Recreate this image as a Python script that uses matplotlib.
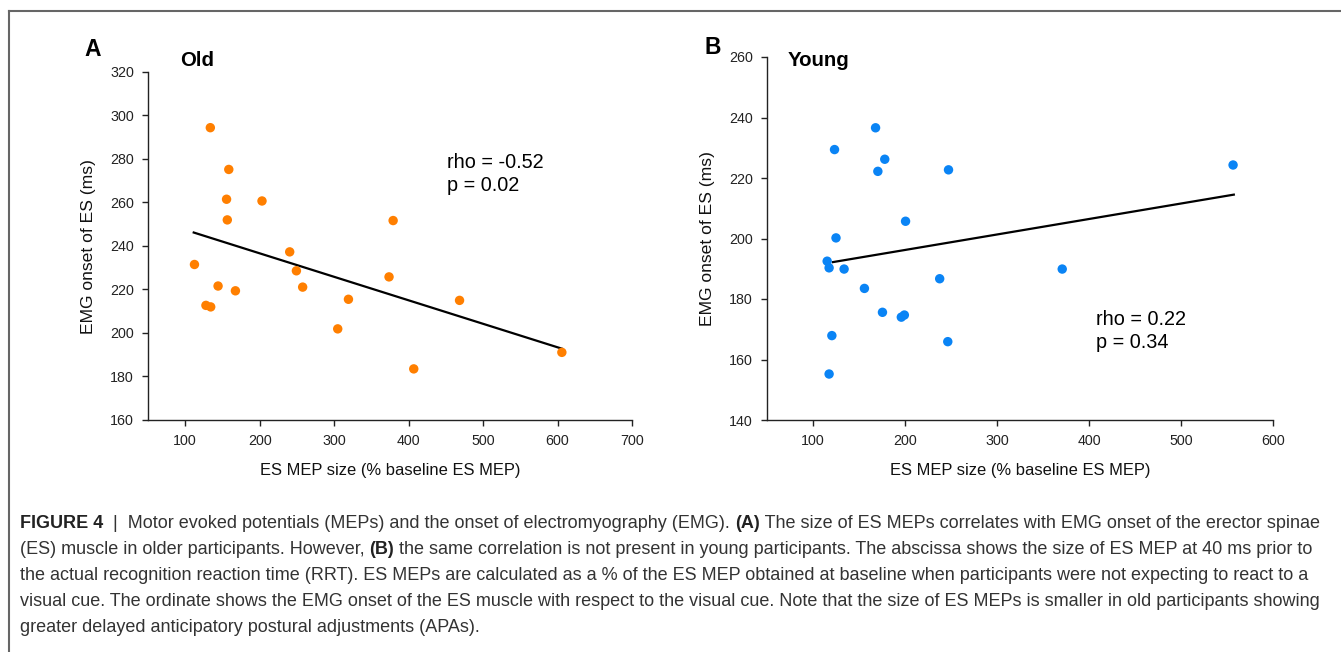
import numpy as np
import matplotlib
matplotlib.use('Agg')
import matplotlib.pyplot as plt
from matplotlib.lines import Line2D

plt.rcParams['font.family'] = ['Liberation Sans', 'DejaVu Sans']

# Painel A - idosos
old_mep = [133.7, 158.5, 155.5, 203.1, 156.5, 379.2, 240.3, 112.4, 249.3, 373.7,
           144.1, 257.7, 167.4, 319.2, 468.4, 127.8, 134.2, 304.8, 406.9, 605.8]
old_emg = [294.4, 275.2, 261.5, 260.7, 252.0, 251.7, 237.3, 231.5, 228.6, 225.8,
           221.6, 221.1, 219.4, 215.5, 215.0, 212.7, 212.0, 201.9, 183.5, 191.1]
old_fit_x = [111.4, 605.8]
old_fit_y = [246.2, 192.8]

# Painel B - jovens
young_mep = [168.0, 123.4, 178.0, 170.5, 247.3, 556.6, 200.6, 125.0, 115.4, 117.5,
             133.8, 370.9, 237.7, 155.9, 175.5, 196.0, 199.3, 120.5, 246.5, 117.5]
young_emg = [236.6, 229.4, 226.2, 222.2, 222.7, 224.3, 205.7, 200.2, 192.5, 190.3,
             189.9, 189.9, 186.7, 183.5, 175.6, 174.0, 174.7, 167.9, 165.9, 155.2]
young_fit_x = [121.7, 557.4]
young_fit_y = [192.2, 214.5]

old_xticks = [100, 200, 300, 400, 500, 600, 700]
old_yticks = [160, 180, 200, 220, 240, 260, 280, 300, 320]
young_xticks = [100, 200, 300, 400, 500, 600]
young_yticks = [140, 160, 180, 200, 220, 240, 260]

W, H = 1341, 652
fig = plt.figure(figsize=(W/100, H/100), dpi=100)

axA = fig.add_axes([148/W, 1-420/H, (632-148)/W, (420-72)/H])
axB = fig.add_axes([767/W, 1-420/H, (1273-767)/W, (420-57)/H])


def estilo(ax, xlim, ylim, xt, yt):
    ax.set_xlim(*xlim)
    ax.set_ylim(*ylim)
    ax.set_xticks(xt)
    ax.set_yticks(yt)
    for s in ['top', 'right']:
        ax.spines[s].set_visible(False)
    for s in ['left', 'bottom']:
        ax.spines[s].set_linewidth(1.0)
        ax.spines[s].set_color('#222222')
    ax.tick_params(direction='out', length=4, width=1.0, labelsize=10.3,
                   colors='#222222', pad=6)
    ax.set_xlabel('ES MEP size (% baseline ES MEP)', fontsize=11.9, labelpad=11,
                  color='#111111')
    ax.set_ylabel('EMG onset of ES (ms)', fontsize=12.6, labelpad=10,
                  color='#111111')


estilo(axA, (50, 700), (160, 320), old_xticks, old_yticks)
axA.scatter(old_mep, old_emg, s=46, color='#ff7f00', edgecolors='none',
            zorder=3, clip_on=False)
axA.plot(old_fit_x, old_fit_y, color='black', lw=1.6, zorder=2)
axA.text(451, 278.6, 'rho = -0.52', fontsize=14.3, va='center')
axA.text(451, 267.6, 'p = 0.02', fontsize=14.3, va='center')

estilo(axB, (50, 600), (140, 260), young_xticks, young_yticks)
axB.scatter(young_mep, young_emg, s=46, color='#0a84f5', edgecolors='none',
            zorder=3, clip_on=False)
axB.plot(young_fit_x, young_fit_y, color='black', lw=1.6, zorder=2)
axB.text(408, 173.1, 'rho = 0.22', fontsize=14.3, va='center')
axB.text(408, 165.5, 'p = 0.34', fontsize=14.3, va='center')

# letras dos paineis e titulos
fig.text(84/W, 1-50/H, 'A', fontsize=16.5, fontweight='bold', va='center')
fig.text(180/W, 1-60/H, 'Old', fontsize=14.7, fontweight='bold', va='center')
fig.text(704/W, 1-48/H, 'B', fontsize=16.5, fontweight='bold', va='center')
fig.text(788/W, 1-61/H, 'Young', fontsize=14.7, fontweight='bold', va='center')

# moldura (topo e esquerda)
fig.add_artist(Line2D([9/W, 1], [1-11/H, 1-11/H], transform=fig.transFigure,
                      color='#666666', lw=1.5))
fig.add_artist(Line2D([9/W, 9/W], [1-11/H, 0], transform=fig.transFigure,
                      color='#666666', lw=1.5))

# legenda da figura
caption = [
    [('FIGURE 4', True), ('  |  Motor evoked potentials (MEPs) and the onset of electromyography (EMG). ', False),
     ('(A)', True), (' The size of ES MEPs correlates with EMG onset of the erector spinae', False)],
    [('(ES) muscle in older participants. However, ', False), ('(B)', True),
     (' the same correlation is not present in young participants. The abscissa shows the size of ES MEP at 40 ms prior to', False)],
    [('the actual recognition reaction time (RRT). ES MEPs are calculated as a % of the ES MEP obtained at baseline when participants were not expecting to react to a', False)],
    [('visual cue. The ordinate shows the EMG onset of the ES muscle with respect to the visual cue. Note that the size of ES MEPs is smaller in old participants showing', False)],
    [('greater delayed anticipatory postural adjustments (APAs).', False)],
]
line_y = [523, 549, 576, 602, 628]

renderer = fig.canvas.get_renderer()
for pieces, yy in zip(caption, line_y):
    x = 20
    for txt, bold in pieces:
        t = fig.text(x/W, 1-yy/H, txt, fontsize=13.0, va='center',
                     fontweight='bold' if bold else 'normal',
                     color='#222222' if bold else '#333333')
        bb = t.get_window_extent(renderer)
        x = bb.x1

fig.savefig('out.png', dpi=100)
